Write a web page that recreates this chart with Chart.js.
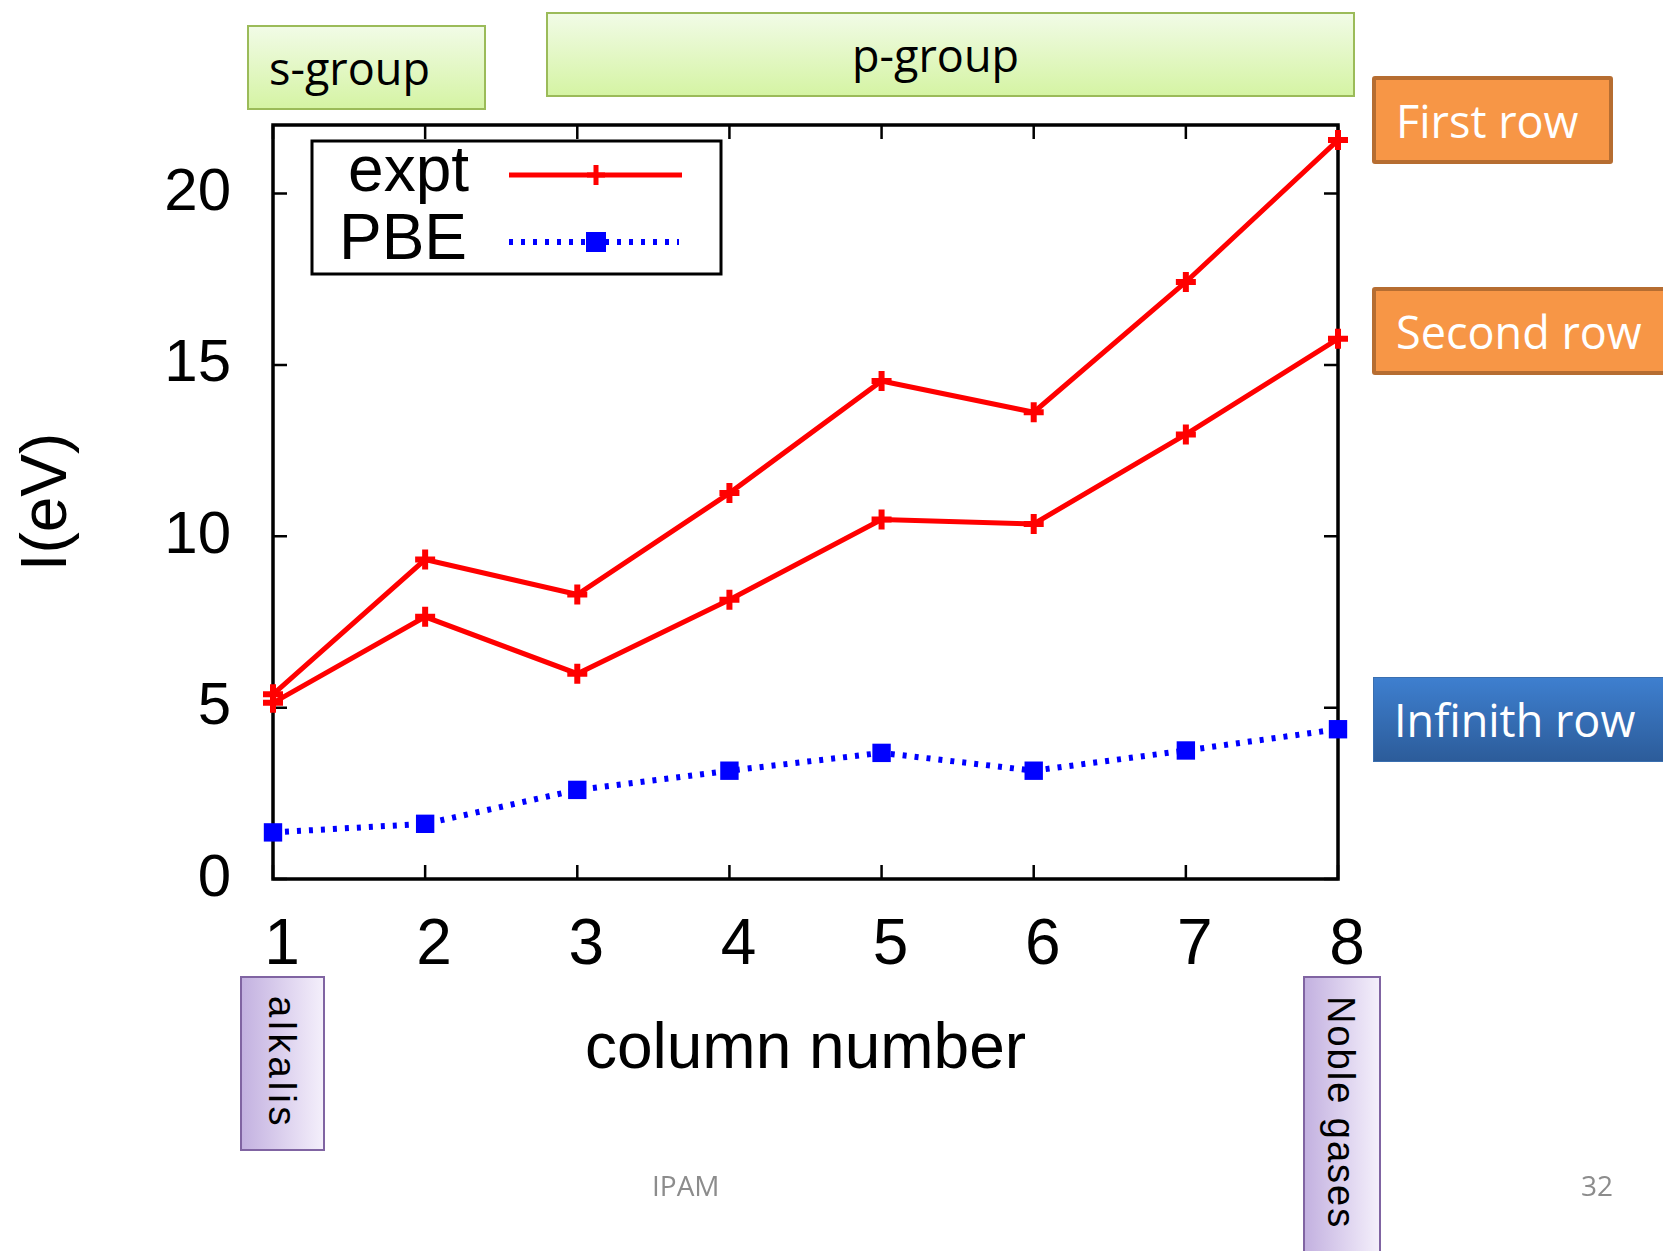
<!DOCTYPE html>
<html>
<head>
<meta charset="utf-8">
<title>Ionization energies by column</title>
<script src="https://cdn.jsdelivr.net/npm/chart.js@4.4.0/dist/chart.umd.min.js"></script>
<style>
  html, body { margin: 0; padding: 0; background: #fff; }
  #slide { position: relative; width: 1663px; height: 1251px; overflow: hidden; background: #fff; }
  #chart { position: absolute; left: 0; top: 0; }
  .tag { position: absolute; box-sizing: border-box; font-family: "Open Sans", sans-serif; display: flex; align-items: center; white-space: nowrap; }
  .green { background: linear-gradient(#f1fbe6, #d5f4a4); border: 2px solid #9bbb59; color: #000; font-size: 45px; }
  .orange { background: #f79646; border: 4px solid #b66d31; border-radius: 3px; color: #fff; font-size: 45px; padding-left: 20px; }
  .blue { background: linear-gradient(#3e7fcf, #2c5c9a); border: 1px solid #3a6fb0; color: #fff; font-size: 45px; padding-left: 20px; }
  .purple { background: linear-gradient(to right, #c3b1e0, #f4effb); border: 2px solid #8064a2; }
  .purple span { position: absolute; left: 50%; top: 0; transform-origin: 0 0; transform: translateX(20px) rotate(90deg); font-family: "Liberation Sans", Arial, sans-serif; font-size: 38px; letter-spacing: 2px; color: #000; padding-left: 18px; white-space: nowrap; }
  .foot { position: absolute; font-family: "Open Sans", sans-serif; font-size: 28px; color: #8c8c8c; }
</style>
</head>
<body>
<div id="slide">
  <canvas id="chart" width="1663" height="1251"></canvas>

  <div class="tag green" style="left:247px; top:25px; width:239px; height:85px; padding-left:20px;">s-group</div>
  <div class="tag green" style="left:546px; top:12px; width:809px; height:85px; justify-content:center; padding-right:30px;">p-group</div>
  <div class="tag orange" style="left:1372px; top:76px; width:241px; height:88px;">First row</div>
  <div class="tag orange" style="left:1372px; top:287px; width:310px; height:88px;">Second row</div>
  <div class="tag blue" style="left:1373px; top:677px; width:310px; height:85px;">Infinith row</div>
  <div class="tag purple" style="left:240px; top:976px; width:85px; height:175px;"><span style="letter-spacing:4px;">alkalis</span></div>
  <div class="tag purple" style="left:1303px; top:976px; width:78px; height:300px;"><span>Noble gases</span></div>

  <div class="foot" style="left:652px; top:1166px;">IPAM</div>
  <div class="foot" style="left:1581px; top:1166px;">32</div>
</div>

<script>
// Data
const columns = ["1", "2", "3", "4", "5", "6", "7", "8"];
const firstRow = [5.39, 9.32, 8.30, 11.26, 14.53, 13.62, 17.42, 21.56];
const secondRow = [5.14, 7.65, 5.99, 8.15, 10.49, 10.36, 12.97, 15.76];
const pbeInfinite = [1.36, 1.61, 2.6, 3.16, 3.68, 3.16, 3.75, 4.37];
const yTicks = [0, 5, 10, 15, 20];

const RED = "#ff0000";
const BLUE = "#0000ff";
const FONT = "'Liberation Sans', Arial, sans-serif";

// Frame with inward tick marks (gnuplot style)
const framePlugin = {
  id: "frame",
  beforeDatasetsDraw(chart) {
    const { ctx, chartArea: a, scales } = chart;
    const len = 14;
    ctx.save();
    ctx.strokeStyle = "#000";
    ctx.lineWidth = 2.5;
    ctx.beginPath();
    yTicks.forEach((v) => {
      const y = scales.y.getPixelForValue(v);
      ctx.moveTo(a.left, y);
      ctx.lineTo(a.left + len, y);
      ctx.moveTo(a.right, y);
      ctx.lineTo(a.right - len, y);
    });
    columns.forEach((c, i) => {
      const x = scales.x.getPixelForValue(i);
      ctx.moveTo(x, a.bottom);
      ctx.lineTo(x, a.bottom - len);
      ctx.moveTo(x, a.top);
      ctx.lineTo(x, a.top + len);
    });
    ctx.stroke();
    ctx.lineWidth = 3.5;
    ctx.strokeRect(a.left, a.top, a.right - a.left, a.bottom - a.top);
    ctx.restore();
  },
};

// Boxed legend in the upper left of the plot
const boxLegend = {
  id: "boxLegend",
  afterDatasetsDraw(chart) {
    const { ctx, chartArea: a } = chart;
    const bx = a.left + 39, by = a.top + 16, bw = 409, bh = 133;
    ctx.save();
    ctx.fillStyle = "#fff";
    ctx.fillRect(bx, by, bw, bh);
    ctx.strokeStyle = "#000";
    ctx.lineWidth = 3;
    ctx.strokeRect(bx, by, bw, bh);

    ctx.fillStyle = "#000";
    ctx.font = "64px " + FONT;
    ctx.textAlign = "right";
    ctx.textBaseline = "middle";
    ctx.fillText("expt", bx + 157, by + 32);
    ctx.fillText("PBE", bx + 155, by + 100);

    const x0 = bx + 197, x1 = bx + 370, xm = bx + 284;
    // expt sample
    ctx.strokeStyle = RED;
    ctx.lineWidth = 5;
    ctx.beginPath();
    ctx.moveTo(x0, by + 34);
    ctx.lineTo(x1, by + 34);
    ctx.stroke();
    ctx.beginPath();
    ctx.moveTo(xm - 9, by + 34);
    ctx.lineTo(xm + 9, by + 34);
    ctx.moveTo(xm, by + 24);
    ctx.lineTo(xm, by + 44);
    ctx.stroke();
    // PBE sample
    ctx.strokeStyle = BLUE;
    ctx.lineWidth = 6;
    ctx.setLineDash([4, 8]);
    ctx.beginPath();
    ctx.moveTo(x0, by + 101);
    ctx.lineTo(x1 - 3, by + 101);
    ctx.stroke();
    ctx.setLineDash([]);
    ctx.fillStyle = BLUE;
    ctx.fillRect(xm - 10, by + 91, 20, 20);
    ctx.restore();
  },
};

const ctx = document.getElementById("chart").getContext("2d");
new Chart(ctx, {
  type: "line",
  data: {
    labels: columns,
    datasets: [
      {
        label: "expt (first row)",
        data: firstRow,
        borderColor: RED,
        backgroundColor: RED,
        borderWidth: 5,
        pointStyle: "crossRot",
        pointRotation: 45,
        pointRadius: 10,
        pointBorderWidth: 6,
        tension: 0,
        clip: false,
      },
      {
        label: "expt (second row)",
        data: secondRow,
        borderColor: RED,
        backgroundColor: RED,
        borderWidth: 5,
        pointStyle: "crossRot",
        pointRotation: 45,
        pointRadius: 10,
        pointBorderWidth: 6,
        tension: 0,
        clip: false,
      },
      {
        label: "PBE",
        data: pbeInfinite,
        borderColor: BLUE,
        backgroundColor: BLUE,
        borderWidth: 6,
        borderDash: [4, 8],
        pointStyle: "rect",
        pointRadius: 13,
        pointBorderWidth: 0,
        tension: 0,
        clip: false,
      },
    ],
  },
  options: {
    responsive: false,
    animation: false,
    layout: { padding: { top: 125, right: 325, bottom: 0, left: 0 } },
    plugins: {
      legend: { display: false },
      tooltip: { enabled: false },
    },
    scales: {
      x: {
        type: "category",
        offset: false,
        grid: { display: false, drawTicks: false },
        border: { display: false },
        ticks: {
          color: "#000",
          font: { family: FONT, size: 64 },
          padding: 29,
          labelOffset: 9,
          maxRotation: 0,
          autoSkip: false,
        },
        title: {
          display: true,
          text: "column number",
          color: "#000",
          font: { family: FONT, size: 64 },
          padding: { top: 0, bottom: 162 },
        },
        afterFit: (s) => { s.height = 372; },
      },
      y: {
        min: 0,
        max: 22,
        grid: { display: false, drawTicks: false },
        border: { display: false },
        ticks: {
          stepSize: 5,
          includeBounds: false,
          color: "#000",
          font: { family: FONT, size: 60 },
          padding: 42,
        },
        title: {
          display: true,
          text: "I(eV)",
          color: "#000",
          font: { family: FONT, size: 64 },
          padding: { top: 10, bottom: 0 },
        },
        afterFit: (s) => { s.width = 273; },
      },
    },
  },
  plugins: [framePlugin, boxLegend],
});
</script>
</body>
</html>
